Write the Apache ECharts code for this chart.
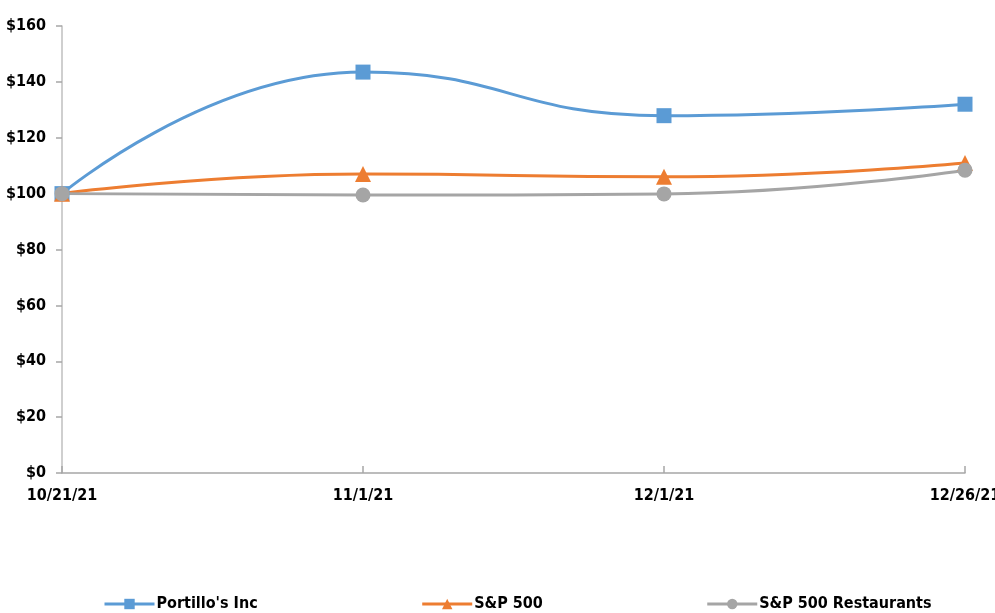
<!DOCTYPE html>
<html>
<head>
<meta charset="utf-8">
<script src="https://cdn.jsdelivr.net/npm/echarts@6/dist/echarts.min.js"></script>
<style>
html,body{margin:0;padding:0;background:#fff;}
#chart{width:995px;height:613px;}
</style>
</head>
<body>
<div id="chart"></div>
<script>
const categories = ['10/21/21', '11/1/21', '12/1/21', '12/26/21'];
const portillos = [100, 143.5, 127.9, 132.0];
const sp500 = [100, 107.0, 106.0, 111.0];
const spRestaurants = [100, 99.5, 99.9, 108.4];
const seriesNames = ["Portillo's Inc", 'S&P 500', 'S&P 500 Restaurants'];

const FONT = "'DejaVu Sans Condensed', 'Liberation Sans Narrow', 'Arial Narrow', sans-serif";
const chart = echarts.init(document.getElementById('chart'), null, {renderer: 'canvas'});

function mkSeries(name, data, color, symbol, size) {
  return {
    name: name,
    type: 'line',
    data: data,
    smooth: 0.5,
    symbol: symbol,
    symbolSize: size,
    showAllSymbol: true,
    lineStyle: {color: color, width: 3},
    itemStyle: {color: color},
    emphasis: {disabled: true}
  };
}

chart.setOption({
  animation: false,
  backgroundColor: '#fff',
  grid: {left: 62, right: 30, top: 26, bottom: 140, containLabel: false, outerBoundsMode: 'none'},
  legend: {
    left: 98,
    top: 591,
    itemGap: 163,
    itemWidth: 50,
    itemHeight: 13,
    lineStyle: {width: 3},
    textStyle: {fontFamily: FONT, fontWeight: 'bold', fontSize: 16, color: '#000', padding: [0, 0, 0, -3]},
    data: seriesNames
  },
  xAxis: {
    type: 'category',
    data: categories,
    boundaryGap: false,
    axisLine: {lineStyle: {color: '#a6a6a6', width: 1.5}},
    axisTick: {inside: true, length: 7, lineStyle: {color: '#a6a6a6', width: 1.5}},
    axisLabel: {fontFamily: FONT, fontWeight: 'bold', fontSize: 16, color: '#000', margin: 15},
    axisPointer: {show: false}
  },
  yAxis: {
    type: 'value',
    min: 0,
    max: 160,
    interval: 20,
    axisLine: {show: true, lineStyle: {color: '#bfbfbf', width: 1.5}},
    axisTick: {show: true, length: 6, lineStyle: {color: '#a6a6a6', width: 1.5}},
    splitLine: {show: false},
    axisLabel: {fontFamily: FONT, fontWeight: 'bold', fontSize: 16, color: '#000', margin: 16,
      formatter: v => '$' + v}
  },
  series: [
    mkSeries(seriesNames[0], portillos, '#5b9bd5', 'rect', 15),
    mkSeries(seriesNames[1], sp500, '#ed7d31', 'triangle', 16),
    mkSeries(seriesNames[2], spRestaurants, '#a5a5a5', 'circle', 15)
  ]
});
</script>
</body>
</html>
